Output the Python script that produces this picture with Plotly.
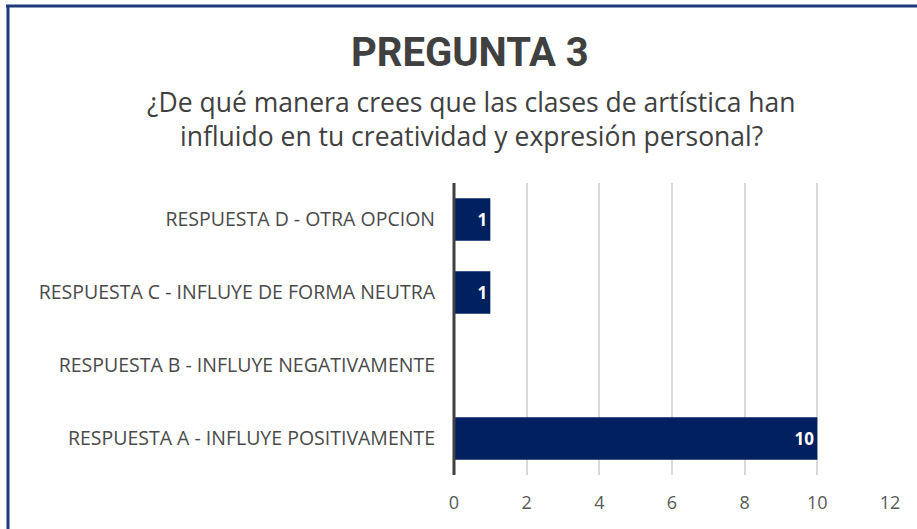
import plotly.graph_objects as go

categories = ["RESPUESTA A - INFLUYE POSITIVAMENTE",
              "RESPUESTA B - INFLUYE NEGATIVAMENTE",
              "RESPUESTA C - INFLUYE DE FORMA NEUTRA",
              "RESPUESTA D - OTRA OPCION"]
values = [10, 0, 1, 1]
tick_vals = [0, 2, 4, 6, 8, 10, 12]

title_text = "PREGUNTA 3"
subtitle_1 = "¿De qué manera crees que las clases de artística han"
subtitle_2 = "influido en tu creatividad y expresión personal?"

FONT = "Open Sans"
W, H = 917, 529
L, R, T, B = 454, 890, 183, 475

def px_x(px):
    return (px - L) / (R - L)

def px_y(py):
    return (B - py) / (B - T)

fig = go.Figure(go.Bar(
    y=categories, x=values, orientation="h",
    marker=dict(color="#002060", line=dict(width=0)),
    text=[str(v) if v else "" for v in values],
    textposition="inside", insidetextanchor="end",
    textfont=dict(family=FONT, size=17, color="white", weight="bold"),
    width=0.58,
))

fig.update_layout(
    width=W, height=H,
    margin=dict(l=L, r=W - R, t=T, b=H - B),
    paper_bgcolor="white", plot_bgcolor="white",
    showlegend=False,
    xaxis=dict(range=[0, 12], tickvals=tick_vals, showgrid=True,
               gridcolor="#D9D9D9", gridwidth=2, zeroline=False,
               showline=False, ticks="", tickfont=dict(family=FONT, size=18, color="#595959"),
               ticklabelstandoff=15),
    yaxis=dict(showgrid=False, zeroline=False, showline=False, ticks="",
               tickfont=dict(family=FONT, size=19.5, color="#4A4A4A"),
               ticklabelstandoff=18),
    shapes=[
        dict(type="line", xref="paper", yref="paper", x0=0, x1=0, y0=0, y1=1,
             line=dict(color="#404040", width=3)),
        dict(type="line", xref="paper", yref="paper", x0=px_x(8), x1=px_x(8),
             y0=px_y(6), y1=px_y(540), line=dict(color="#1F3A7A", width=3)),
        dict(type="line", xref="paper", yref="paper", x0=px_x(6), x1=px_x(930),
             y0=px_y(6), y1=px_y(6), line=dict(color="#1F3A7A", width=3)),
    ],
    annotations=[
        dict(text=title_text, xref="paper", yref="paper", x=px_x(470), y=px_y(52),
             xanchor="center", yanchor="middle", showarrow=False,
             font=dict(family="Roboto", size=40, color="#404040", weight="bold")),
        dict(text=subtitle_1, xref="paper", yref="paper", x=px_x(471), y=px_y(102),
             xanchor="center", yanchor="middle", showarrow=False,
             font=dict(family=FONT, size=26.5, color="#404040")),
        dict(text=subtitle_2, xref="paper", yref="paper", x=px_x(471), y=px_y(136),
             xanchor="center", yanchor="middle", showarrow=False,
             font=dict(family=FONT, size=26.5, color="#404040")),
    ],
)

fig.write_html("out.html", config={"displayModeBar": False},
               post_script="document.body.style.margin='0';")
